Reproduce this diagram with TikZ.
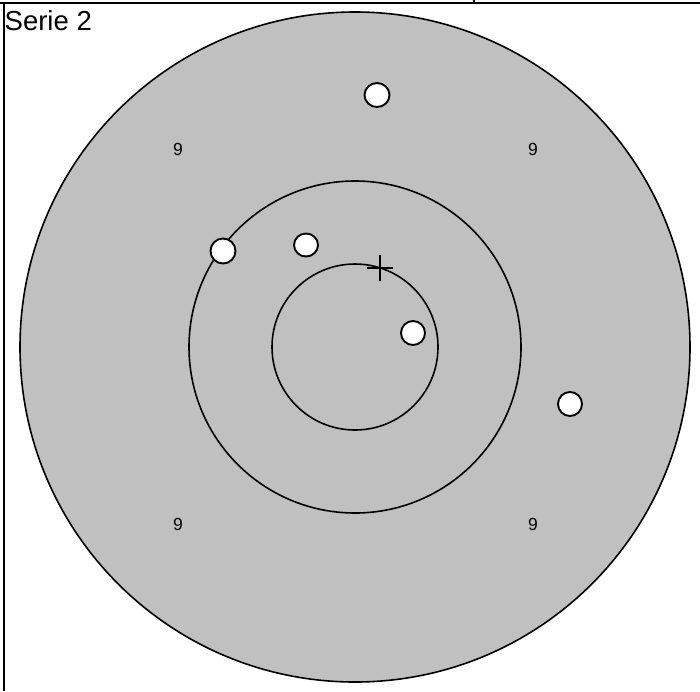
\documentclass[tikz,border=0pt]{standalone}
\usepackage{fontspec}
\setmainfont{Liberation Sans}
\usetikzlibrary{positioning}
\definecolor{targetgrey}{RGB}{192,192,192}

\begin{document}
\begin{tikzpicture}[x=1pt, y=-1pt,
    ring/.style={draw=black, line width=1.6pt},
    hole/.style={draw=black, fill=white, line width=1.9pt},
    score/.style={inner sep=0pt, font=\fontsize{17.5}{17.5}\selectfont}]
            \useasboundingbox (0,0) rectangle (700,691);

            % frame of the table cell
            \draw[line width=2pt] (0,3) -- (700,3);
            \draw[line width=1.6pt] (474,0) -- (474,3);
            \draw[line width=2pt] (4,3) -- (4,691);
            \node[anchor=base west, inner sep=0pt, font=\fontsize{27.5}{27.5}\selectfont] (title) at (4.5,30.5) {Serie 2};

            % target rings
            \coordinate (C) at (355,347);
            \draw[ring, fill=targetgrey] (C) circle (335pt);
            \draw[ring] (C) circle (166pt);
            \draw[ring] (C) circle (83pt);

            % ring values
            \node[score] (n1) at (178,149) {9};
            \node[score] (n2) at (533,149) {9};
            \node[score] (n3) at (178,524) {9};
            \node[score] (n4) at (533,524) {9};

            % aiming mark
            \coordinate (M) at (380,268);
            \draw[line width=1.5pt] ([xshift=-13pt]M) -- ([xshift=13pt]M);
            \draw[line width=1.5pt] ([yshift=-13pt]M) -- ([yshift=13pt]M);

            % shots
            \coordinate (S1) at (377,95);
            \draw[hole] (S1) ellipse (12.5pt and 12pt);

            \coordinate (S2) at (223,251);
            \draw[hole] (S2) ellipse (12.5pt and 12.5pt);

            \coordinate (S3) at (306,245);
            \draw[hole] (S3) ellipse (12pt and 11.5pt);

            \coordinate (S4) at (413,333);
            \draw[hole] (S4) ellipse (12pt and 12pt);

            \coordinate (S5) at (570,404);
            \draw[hole] (S5) ellipse (12pt and 12pt);
\end{tikzpicture}
\end{document}
